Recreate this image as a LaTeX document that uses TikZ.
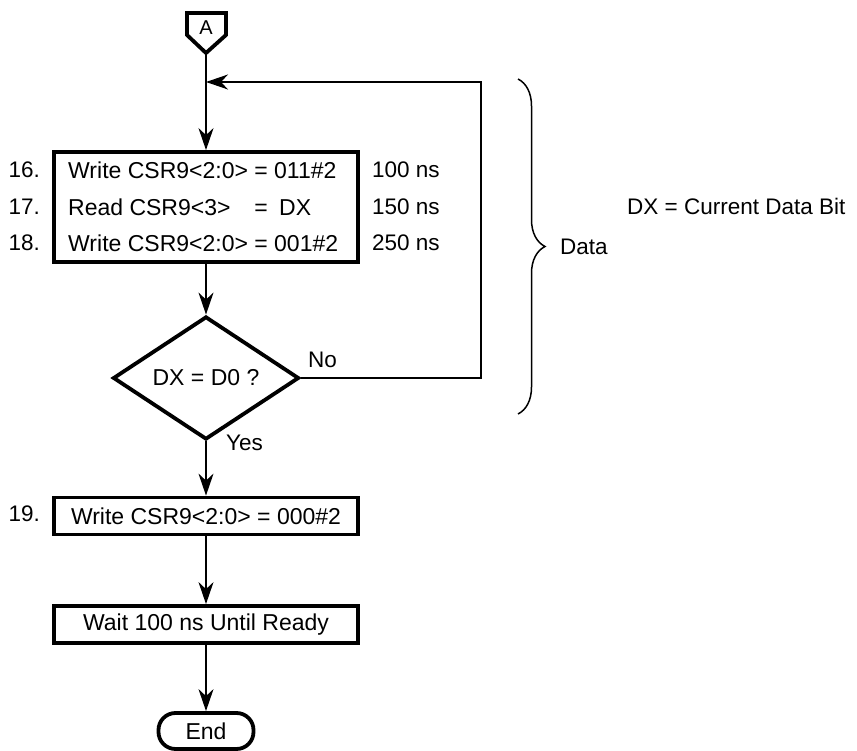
\documentclass[tikz,border=0pt]{standalone}
\usepackage{fontspec}
\setmainfont{Liberation Sans}
\usetikzlibrary{positioning,calc,arrows.meta,shapes.geometric,decorations.pathreplacing}
\definecolor{fcLine}{HTML}{000000}
\definecolor{fcText}{HTML}{000000}
\newcommand{\fcfont}{\fontsize{22.5}{27}\selectfont}
\newcommand{\fcboxfont}{\fontsize{23}{27}\selectfont}
\tikzset{
  flow arrow/.style={
    -{Stealth[length=22pt, width=15pt, inset=7pt]},
    line width=1.5pt, color=fcLine,
  },
  flow line/.style={
    line width=1.5pt, color=fcLine,
  },
  step box/.style={
    rectangle, draw=fcLine, line width=3.8pt,
    minimum width=304pt, minimum height=37pt,
    inner sep=0pt, font=\fcboxfont, text=fcText,
  },
  test diamond/.style={
    diamond, draw=fcLine, line width=3.8pt,
    minimum width=186pt, minimum height=98pt,
    inner sep=0pt, font=\fcboxfont, text=fcText,
  },
  end cap/.style={
    rectangle, rounded corners=17pt, draw=fcLine, line width=3.8pt,
    minimum width=95pt, minimum height=36pt,
    inner sep=0pt, font=\fcboxfont, text=fcText,
  },
  plain text/.style={
    inner sep=0pt, font=\fcfont, text=fcText,
  },
}

\begin{document}
\begin{tikzpicture}[x=1pt, y=-1pt]

\useasboundingbox (0,0) rectangle (857,751);

% --- PARAMETERS ---
\def\xM{206}          % centre line of the chart
\def\steprows{%
  16/170/Write CSR9<2:0> = 011\#2/100 ns,%
  17/207/Read CSR9<3> \hspace{17.5pt}= \hspace{5pt}DX/150 ns,%
  18/243/Write CSR9<2:0> = 001\#2/250 ns%
}

% --- OFF-PAGE CONNECTOR A ---
\draw[line width=3.8pt, line join=miter]
  (187,13) -- (226,13) -- (226,35) -- (\xM,53) -- (187,35) -- cycle;
\node[plain text, font=\fontsize{20}{24}\selectfont] (conA) at (\xM,28) {A};
\coordinate (Atip) at (\xM,53);
\coordinate (merge) at (\xM,82);

% --- DATA LOOP BOX ---
\node[step box, minimum height=110pt] (loopbox) at (\xM,207) {};
\foreach \n/\y/\txt/\t in \steprows {
  \node[plain text, anchor=east] (num\n) at (40,\y) {\n.};
  \node[plain text, anchor=west, font=\fcboxfont] (row\n) at (68,\y) {\txt};
  \node[plain text, anchor=west] (time\n) at (372,\y) {\t};
}

% --- DECISION ---
\node[test diamond] (test) at (\xM,378) {DX = D0 ?};
\node[plain text, anchor=west] (nolbl) at (308,360) {No};
\node[plain text, anchor=west] (yeslbl) at (226,443) {Yes};
\coordinate (loopR) at (481,82);

% --- FINAL STEPS ---
\node[step box] (writezero) at (\xM,516) {Write CSR9<2:0> = 000\#2};
\node[plain text, anchor=east] (num19) at (40,514) {19.};
\node[step box] (waitready) at (\xM,624.5) {Wait 100 ns Until Ready};
\node[end cap] (finish) at (\xM,731) {End};

% --- ARROWS ---
\draw[flow arrow] (Atip) -- (loopbox.north);
\draw[flow arrow] (loopbox.south) -- (test.north);
\draw[flow arrow] (test.east) -| (loopR) -- (merge);
\draw[flow arrow] (test.south) -- (writezero.north);
\draw[flow arrow] (writezero.south) -- (waitready.north);
\draw[flow arrow] (waitready.south) -- (finish.north);

% --- BRACE AND NOTE ---
\draw[flow line, decorate, decoration={brace, amplitude=27pt, aspect=0.5}]
  (518,79) -- (518,414);
\node[plain text, anchor=west] (datalbl) at (560,247) {Data};
\node[plain text, anchor=west] (dxnote) at (627,206) {DX = Current Data Bit};

\end{tikzpicture}
\end{document}
